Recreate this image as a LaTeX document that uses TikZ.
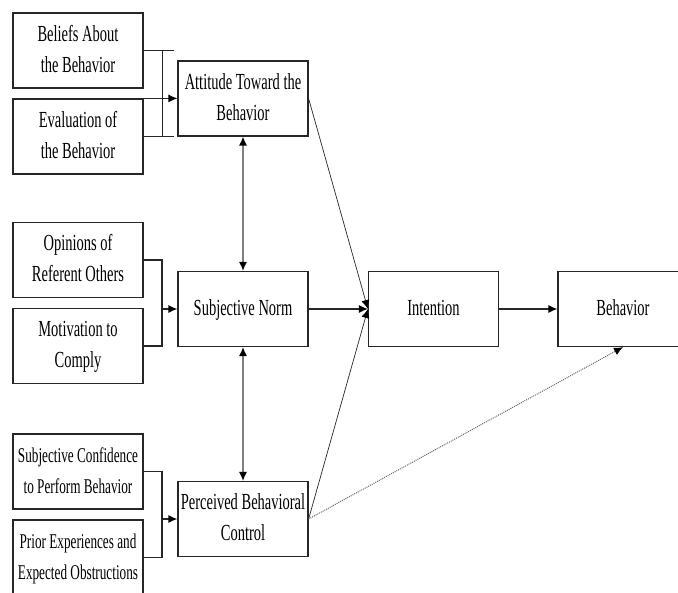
\documentclass[tikz,border=0pt]{standalone}
\usepackage{graphicx}
\usepackage{fontspec}
\setmainfont{Liberation Serif}
\usetikzlibrary{arrows.meta,calc}
\newcommand{\sqz}[2][23]{\scalebox{0.63}[1]{\fontsize{#1}{31}\selectfont\begin{tabular}{@{}c@{}}#2\end{tabular}}}
\tikzset{box/.style={draw=black!85,line width=1.2pt,minimum width=130pt,minimum height=75pt,inner sep=0pt},
	link/.style={draw=black!85,line width=1.2pt},
	thin link/.style={draw=black!85,line width=0.7pt},
	tip/.style={-{Latex[length=9pt,width=8pt,black]}},
	both tips/.style={{Latex[length=9pt,width=8pt,black]}-{Latex[length=9pt,width=8pt,black]}}}

\begin{document}
\begin{tikzpicture}[x=1pt,y=-1pt]
		\useasboundingbox (0,0) rectangle (678,593);
		\clip (0,0) rectangle (678,593);
		\node[box] (belief) at (78,50.5) {\sqz{Beliefs About\\the Behavior}};
		\node[box] (evaluation) at (78,136.5) {\sqz{Evaluation of\\the Behavior}};
		\node[box] (opinion) at (78,260) {\sqz{Opinions of\\Referent Others}};
		\node[box] (motivation) at (78,346) {\sqz{Motivation to\\Comply}};
		\node[box] (confidence) at (78,471.5) {\sqz[21]{Subjective Confidence\\to Perform Behavior}};
		\node[box] (experience) at (78,557.5) {\sqz[21]{Prior Experiences and\\Expected Obstructions}};
		\node[box] (attitude) at (243,98.5) {\sqz{Attitude Toward the\\Behavior}};
		\node[box] (norm) at (243,309) {\sqz{Subjective Norm}};
		\node[box] (control) at (243,519) {\sqz{Perceived Behavioral\\Control}};
		\node[box] (intention) at (433.5,309) {\sqz{Intention}};
		\node[box] (behavior) at (623,309) {\sqz{Behavior}};
		\coordinate (ajoin) at (162,98.5);
		\coordinate (njoin) at (162,309);
		\coordinate (cjoin) at (162,519);
		\draw[link] (belief.east) -- ++(30,0);
		\draw[link] (evaluation.east) -- ++(30,0);
		\draw[link] ($(belief.east)+(19,0)$) -- ($(evaluation.east)+(19,0)$);
		\draw[link,tip] (evaluation.north west) -- (evaluation.north west -| attitude.west);
		\draw[link] (opinion.east) -| (njoin) |- (motivation.east);
		\draw[link,tip] (njoin) -- (norm.west);
		\draw[link] (confidence.east) -| (cjoin) |- (experience.east);
		\draw[link,tip] (cjoin) -- (control.west);
		\draw[link,draw=gray,both tips] (attitude.south) -- (norm.north);
		\draw[link,draw=gray,both tips] (norm.south) -- (control.north);
		\draw[thin link,tip] (attitude.east) -- (intention.west);
		\draw[link,tip] (norm.east) -- (intention.west);
		\draw[thin link,tip] (control.east) -- (intention.west);
		\draw[link,tip] (intention.east) -- (behavior.west);
		\draw[thin link,draw=black!60,line width=1pt,densely dotted,tip] (control.east) -- (behavior.south);
\end{tikzpicture}
\end{document}
